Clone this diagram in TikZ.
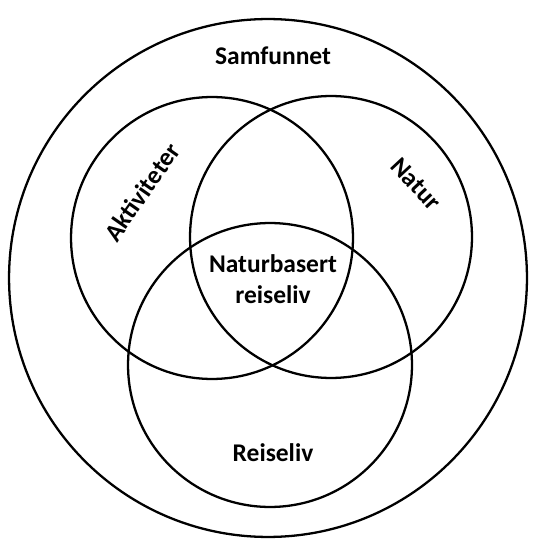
\documentclass[tikz,border=0pt]{standalone}
\usepackage{fontspec}
\setmainfont{Carlito}
\usepackage{tikz}
\usetikzlibrary{positioning}

\tikzset{
  ring/.style={draw, line width=1.3pt},
  label/.style={font=\bfseries\fontsize{14.5}{18}\selectfont, align=center}
}

\begin{document}
\begin{tikzpicture}[x=0.02cm, y=-0.02cm]
        \useasboundingbox (0, 0) rectangle (538, 543);

        \draw[ring] (268, 278) circle (5.18cm);
        \draw[ring] (212, 238) circle (2.82cm);
        \draw[ring] (331, 237) circle (2.82cm);
        \draw[ring] (270, 365) circle (2.84cm);

        \node[label] (samf) at (273, 56) {Samfunnet};
        \node[label, rotate=55] (akt) at (142, 192) {Aktiviteter};
        \node[label, rotate=-47] (natur) at (416, 184) {Natur};
        \node[label] (nrl) at (273, 279) {Naturbasert\\reiseliv};
        \node[label] (reise) at (273, 453) {Reiseliv};
      \end{tikzpicture}
\end{document}
